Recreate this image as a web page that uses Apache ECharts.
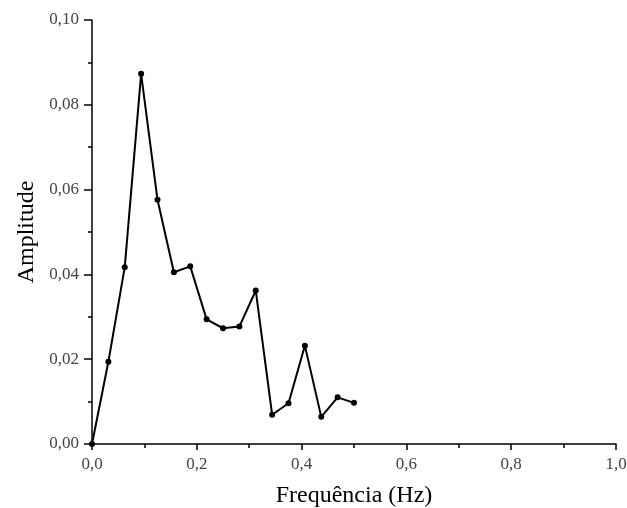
<!DOCTYPE html>
<html><head><meta charset="utf-8">
<script src="https://cdn.jsdelivr.net/npm/echarts@6/dist/echarts.min.js"></script>
<style>html,body{margin:0;padding:0;background:#fff}#c{width:627px;height:508px}</style>
</head><body><div id="c"></div>
<script>
const freq = [0, 1/32, 2/32, 3/32, 4/32, 5/32, 6/32, 7/32, 8/32, 9/32, 10/32, 11/32, 12/32, 13/32, 14/32, 15/32, 16/32];
const amplitude = [0, 0.0194, 0.0417, 0.0873, 0.0576, 0.0405, 0.0419, 0.0294, 0.0273, 0.0277, 0.0362, 0.0069, 0.0096, 0.0232, 0.0064, 0.0110, 0.0097];
const xTitle = 'Frequência (Hz)';
const yTitle = 'Amplitude';

const chart = echarts.init(document.getElementById('c'));
const fmt = d => v => v.toFixed(d).replace('.', ',');
chart.setOption({
  animation: false,
  grid: {left: 92, right: 11, top: 20, bottom: 64, containLabel: false, outerBoundsMode: 'none'},
  xAxis: {
    type: 'value', min: 0, max: 1, interval: 0.2,
    name: xTitle, nameLocation: 'middle', nameGap: 40,
    nameTextStyle: {fontFamily: 'Liberation Serif', fontSize: 24, color: '#000'},
    axisLine: {lineStyle: {color: '#000', width: 1.5}},
    axisTick: {length: 6, lineStyle: {color: '#000', width: 1.5}},
    minorTick: {show: true, splitNumber: 2, length: 4, lineStyle: {color: '#000', width: 1.5}},
    splitLine: {show: false},
    axisLabel: {formatter: fmt(1), fontFamily: 'Liberation Serif', fontSize: 17, color: '#444', margin: 12}
  },
  yAxis: {
    type: 'value', min: 0, max: 0.1, interval: 0.02,
    name: yTitle, nameLocation: 'middle', nameGap: 51,
    nameTextStyle: {fontFamily: 'Liberation Serif', fontSize: 24, color: '#000'},
    axisLine: {show: true, lineStyle: {color: '#000', width: 1.5}},
    axisTick: {show: true, length: 8, lineStyle: {color: '#000', width: 1.5}},
    minorTick: {show: true, splitNumber: 2, length: 4, lineStyle: {color: '#000', width: 1.5}},
    splitLine: {show: false},
    axisLabel: {formatter: fmt(2), fontFamily: 'Liberation Serif', fontSize: 17, color: '#444', margin: 13}
  },
  series: [{
    type: 'line',
    data: freq.map((f, i) => [f, amplitude[i]]),
    symbol: 'circle', symbolSize: 6,
    lineStyle: {color: '#000', width: 2},
    itemStyle: {color: '#000'}
  }]
});
</script></body></html>
